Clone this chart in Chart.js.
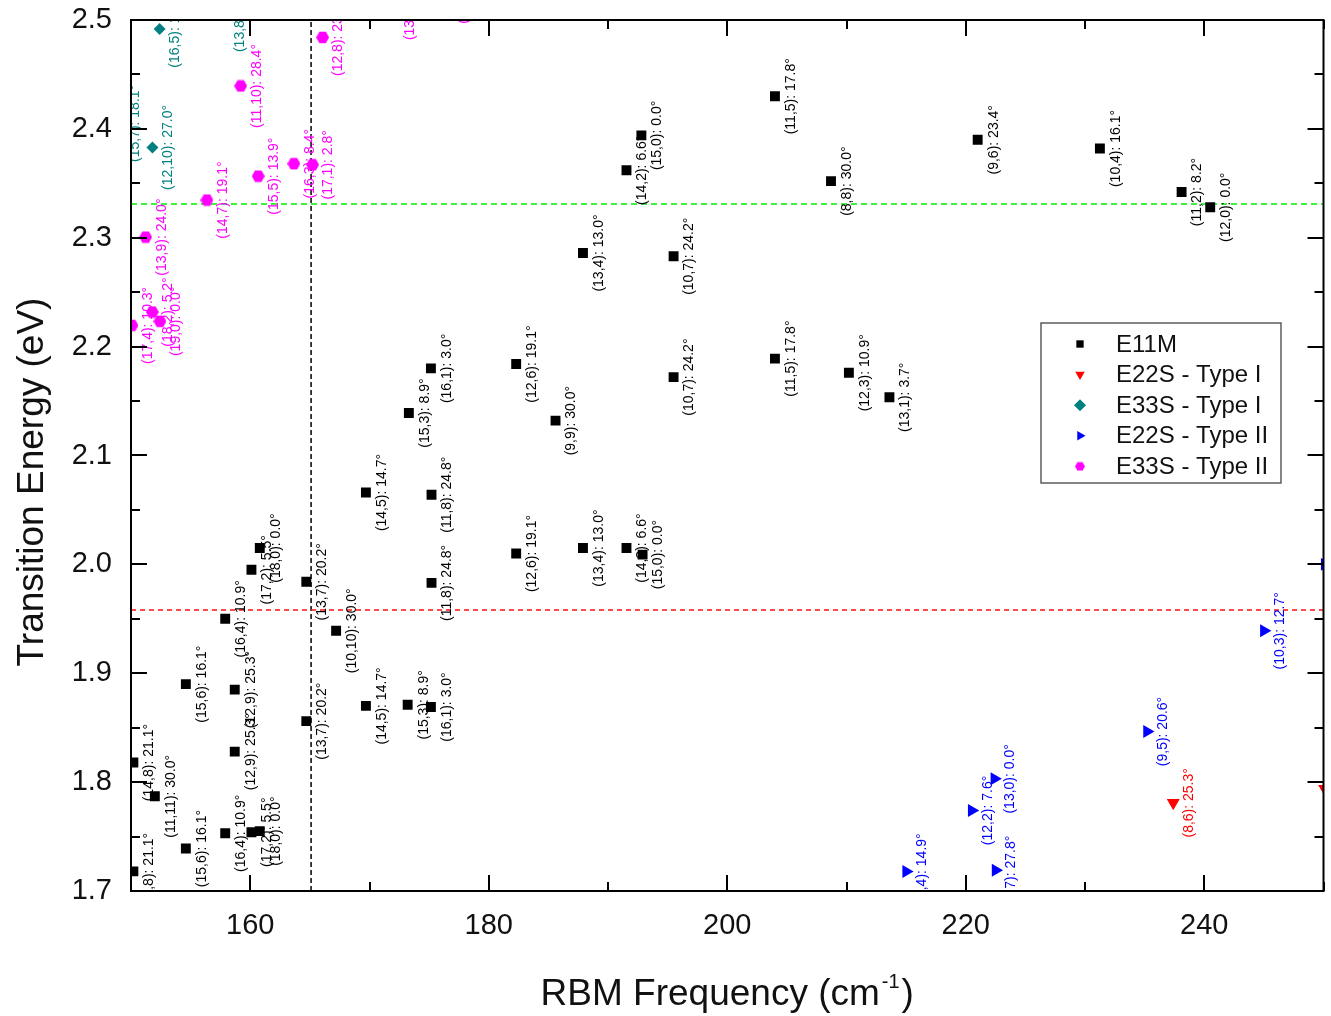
<!DOCTYPE html>
<html>
<head>
<meta charset="utf-8">
<title>Transition Energy vs RBM Frequency</title>
<script src="https://cdn.jsdelivr.net/npm/chart.js@4.4.1/dist/chart.umd.min.js"></script>
<style>
  html, body { margin: 0; padding: 0; background: #fff; }
  #wrap { width: 1331px; height: 1016px; position: relative; }
</style>
</head>
<body>
<div id="wrap"><canvas id="myChart"></canvas></div>
<script>
// Kataura-style plot: transition energies vs RBM frequency

const FONT = '"Liberation Sans", Arial, sans-serif';

// E11M - metallic tubes
const e11mFreq = [150.2, 150.2, 152.0, 154.6, 154.6, 157.9, 157.9, 158.7, 158.7, 160.1, 160.8,
  160.1, 160.8, 164.7, 164.7, 167.2, 169.7, 169.7, 173.3, 175.15, 175.2, 175.2, 173.2, 175.15,
  182.3, 182.3, 185.6, 187.9, 187.9, 191.55, 192.8, 191.55, 192.9, 195.5, 195.5, 204.0, 204.0,
  208.7, 210.2, 213.6, 221.0, 231.25, 238.1, 240.5];
const e11mEnergy = [1.818, 1.718, 1.787, 1.890, 1.739, 1.950, 1.753, 1.885, 1.828, 1.995, 2.015,
  1.754, 1.755, 1.984, 1.856, 1.939, 1.870, 2.066, 2.139, 2.180, 2.064, 1.983, 1.871, 1.869,
  2.184, 2.010, 2.132, 2.286, 2.015, 2.362, 2.394, 2.015, 2.009, 2.283, 2.172, 2.430, 2.189,
  2.352, 2.176, 2.1535, 2.390, 2.382, 2.342, 2.328];
const e11mTags = ["(14,8): 21.1°", "(14,8): 21.1°", "(11,11): 30.0°", "(15,6): 16.1°", "(15,6): 16.1°",
  "(16,4): 10.9°", "(16,4): 10.9°", "(12,9): 25.3°", "(12,9): 25.3°", "(17,2): 5.5°", "(18,0): 0.0°",
  "(17,2): 5.5°", "(18,0): 0.0°", "(13,7): 20.2°", "(13,7): 20.2°", "(10,10): 30.0°", "(14,5): 14.7°",
  "(14,5): 14.7°", "(15,3): 8.9°", "(16,1): 3.0°", "(11,8): 24.8°", "(11,8): 24.8°", "(15,3): 8.9°",
  "(16,1): 3.0°", "(12,6): 19.1°", "(12,6): 19.1°", "(9,9): 30.0°", "(13,4): 13.0°", "(13,4): 13.0°",
  "(14,2): 6.6°", "(15,0): 0.0°", "(14,2): 6.6°", "(15,0): 0.0°", "(10,7): 24.2°", "(10,7): 24.2°",
  "(11,5): 17.8°", "(11,5): 17.8°", "(8,8): 30.0°", "(12,3): 10.9°", "(13,1): 3.7°", "(9,6): 23.4°",
  "(10,4): 16.1°", "(11,2): 8.2°", "(12,0): 0.0°"];

// E22S - semiconducting, type I
const e22sIFreq = [237.4, 250.1];
const e22sIEnergy = [1.781, 1.794];
const e22sITags = ["(8,6): 25.3°", "(9,4): 17.5°"];

// E33S - semiconducting, type I
const e33sIFreq = [152.4, 151.8, 149.0, 157.8];
const e33sIEnergy = [2.4917, 2.383, 2.405, 2.506];
const e33sITags = ["(16,5): 13.2°", "(12,10): 27.0°", "(15,7): 18.1°", "(13,8): 22.2°"];

// E22S - semiconducting, type II
const e22sIIFreq = [245.0, 235.2, 222.4, 220.5, 222.5, 215.0, 250.1];
const e22sIIEnergy = [1.939, 1.8465, 1.803, 1.774, 1.719, 1.718, 2.000];
const e22sIITags = ["(10,3): 12.7°", "(9,5): 20.6°", "(13,0): 0.0°", "(12,2): 7.6°",
  "(8,7): 27.8°", "(11,4): 14.9°", "(11,1): 4.3°"];

// E33S - semiconducting, type II
const e33sIIFreq = [166.07, 159.2, 156.37, 160.67, 163.66, 165.23, 151.23, 150.08, 151.79, 152.43,
  172.1, 176.6, 182.0];
const e33sIIEnergy = [2.484, 2.4394, 2.3346, 2.3566, 2.368, 2.367, 2.3006, 2.2195, 2.2318, 2.2232,
  2.517, 2.532, 2.533];
const e33sIITags = ["(12,8): 23.4°", "(11,10): 28.4°", "(14,7): 19.1°", "(15,5): 13.9°", "(16,3): 8.4°",
  "(17,1): 2.8°", "(13,9): 24.0°", "(17,4): 10.3°", "(18,2): 5.2°", "(19,0): 0.0°",
  "(13,6): 18.0°", "(14,4): 12.2°", "(15,2): 6.2°"];

// laser lines (eV) and the frequency divider (cm-1)
const laserGreen = 2.331;
const laserRed = 1.958;
const splitFreq = 165.1;

const xRange = [150, 250];
const yRange = [1.7, 2.5];

function toPoints(xs, ys) {
  return xs.map((x, i) => ({ x: x, y: ys[i] }));
}

// hexagon marker (Chart.js has none built in)
function makeHexagon(size, color) {
  const c = document.createElement("canvas");
  c.width = size;
  c.height = size;
  const g = c.getContext("2d");
  const r = size / 2;
  g.fillStyle = color;
  g.beginPath();
  for (let k = 0; k < 6; k++) {
    const a = Math.PI / 3 * k;
    const px = r + Math.cos(a) * r;
    const py = r + Math.sin(a) * r;
    if (k === 0) g.moveTo(px, py); else g.lineTo(px, py);
  }
  g.closePath();
  g.fill();
  return c;
}

const hexBig = makeHexagon(13, "#ff00ff");
const hexSmall = makeHexagon(10, "#ff00ff");

function series(label, xs, ys, tags, color, style, radius, rotation, legendStyle, legendRadius) {
  return {
    label: label,
    data: toPoints(xs, ys),
    tags: tags,
    tagColor: color,
    legendStyle: legendStyle || style,
    legendRadius: legendRadius,
    pointStyle: style,
    pointRadius: radius,
    pointRotation: rotation,
    pointBackgroundColor: color,
    pointBorderWidth: 0,
    showLine: false,
    clip: 0,
    order: 1,
  };
}

function refLine(points, color, dash) {
  return {
    label: "",
    data: points,
    showLine: true,
    borderColor: color,
    borderWidth: 1.5,
    borderDash: dash,
    pointRadius: 0,
    clip: 0,
    order: 5,
  };
}

const datasets = [
  series("E11M", e11mFreq, e11mEnergy, e11mTags, "#000000", "rect", 7, 0, "rect", 5.2),
  series("E22S - Type I", e22sIFreq, e22sIEnergy, e22sITags, "#ff0000", "triangle", 7.5, 180, "triangle", 5.5),
  series("E33S - Type I", e33sIFreq, e33sIEnergy, e33sITags, "#008080", "rectRot", 6, 0, "rectRot", 6),
  series("E22S - Type II", e22sIIFreq, e22sIIEnergy, e22sIITags, "#0000ff", "triangle", 7.5, 90, "triangle", 5.5),
  series("E33S - Type II", e33sIIFreq, e33sIIEnergy, e33sIITags, "#ff00ff", hexBig, 6.5, 0, hexSmall, 5),
  refLine([{ x: xRange[0], y: laserGreen }, { x: xRange[1], y: laserGreen }], "#00ee00", [6, 4]),
  refLine([{ x: xRange[0], y: laserRed }, { x: xRange[1], y: laserRed }], "#ff1010", [5, 4]),
  refLine([{ x: splitFreq, y: yRange[0] }, { x: splitFreq, y: yRange[1] }], "#000000", [5, 3]),
];

// rotated (n,m) tags next to each marker, clipped to the plot frame
const tagPlugin = {
  id: "pointTags",
  afterDatasetsDraw(chart) {
    const { ctx, chartArea: a } = chart;
    ctx.save();
    ctx.beginPath();
    ctx.rect(a.left, a.top, a.right - a.left, a.bottom - a.top);
    ctx.clip();
    ctx.font = "14px " + FONT;
    ctx.textAlign = "center";
    ctx.textBaseline = "middle";
    chart.data.datasets.forEach((ds, i) => {
      if (!ds.tags) return;
      ctx.fillStyle = ds.tagColor;
      chart.getDatasetMeta(i).data.forEach((pt, j) => {
        ctx.save();
        ctx.translate(pt.x + 16, pt.y);
        ctx.rotate(-Math.PI / 2);
        ctx.fillText(ds.tags[j], 0, 0);
        ctx.restore();
      });
    });
    ctx.restore();
  },
};

// frame, inward ticks on all four sides, legend box and axis titles
const framePlugin = {
  id: "frame",
  afterDraw(chart) {
    const { ctx, chartArea: a, scales } = chart;
    ctx.save();
    ctx.strokeStyle = "#000";
    ctx.lineWidth = 2;

    scales.x.ticks.forEach((t) => {
      const px = Math.round(scales.x.getPixelForValue(t.value));
      const len = t.label ? 16 : 9;
      ctx.beginPath();
      ctx.moveTo(px, a.bottom);
      ctx.lineTo(px, a.bottom - len);
      ctx.moveTo(px, a.top);
      ctx.lineTo(px, a.top + len);
      ctx.stroke();
    });
    scales.y.ticks.forEach((t) => {
      const py = Math.round(scales.y.getPixelForValue(t.value));
      const len = t.label ? 16 : 9;
      ctx.beginPath();
      ctx.moveTo(a.left, py);
      ctx.lineTo(a.left + len, py);
      ctx.moveTo(a.right, py);
      ctx.lineTo(a.right - len, py);
      ctx.stroke();
    });
    ctx.strokeRect(a.left, a.top, a.right - a.left, a.bottom - a.top);

    // legend
    const box = { x: 1041, y: 323, w: 240, h: 160 };
    ctx.fillStyle = "#fff";
    ctx.fillRect(box.x, box.y, box.w, box.h);
    ctx.strokeStyle = "#444";
    ctx.lineWidth = 1.3;
    ctx.strokeRect(box.x, box.y, box.w, box.h);
    ctx.font = "24px " + FONT;
    ctx.textBaseline = "middle";
    ctx.textAlign = "left";
    let row = 0;
    chart.data.datasets.forEach((ds) => {
      if (!ds.tags) return;
      const cy = box.y + 21 + row * 30.6;
      ctx.fillStyle = ds.tagColor;
      Chart.helpers.drawPoint(ctx, {
        pointStyle: ds.legendStyle,
        radius: ds.legendRadius,
        rotation: ds.pointRotation,
        borderWidth: 0,
      }, 1080, cy);
      ctx.fillStyle = "#111";
      ctx.fillText(ds.label, 1116, cy + 1);
      row++;
    });

    // axis titles
    ctx.fillStyle = "#111";
    ctx.save();
    ctx.translate(33, 482);
    ctx.rotate(-Math.PI / 2);
    ctx.font = "37px " + FONT;
    ctx.textAlign = "center";
    ctx.textBaseline = "middle";
    ctx.fillText("Transition Energy (eV)", 0, 0);
    ctx.restore();

    const base = 1005;
    const mainFont = "37px " + FONT;
    const supFont = "20px " + FONT;
    ctx.textBaseline = "alphabetic";
    ctx.textAlign = "left";
    ctx.font = mainFont;
    const w1 = ctx.measureText("RBM Frequency (cm").width;
    const w3 = ctx.measureText(")").width;
    ctx.font = supFont;
    const w2 = ctx.measureText("-1").width + 4;
    let x0 = (a.left + a.right) / 2 - (w1 + w2 + w3) / 2;
    ctx.font = mainFont;
    ctx.fillText("RBM Frequency (cm", x0, base);
    ctx.font = supFont;
    ctx.fillText("-1", x0 + w1 + 2, base - 17);
    ctx.font = mainFont;
    ctx.fillText(")", x0 + w1 + w2, base);
    ctx.restore();
  },
};

const config = {
  type: "scatter",
  data: { datasets: datasets },
  options: {
    responsive: true,
    maintainAspectRatio: false,
    animation: false,
    events: [],
    layout: { padding: { top: 20, right: 7, left: 0, bottom: 0 } },
    plugins: {
      legend: { display: false },
      tooltip: { enabled: false },
    },
    scales: {
      x: {
        type: "linear",
        min: xRange[0],
        max: xRange[1],
        grid: { display: false, drawTicks: false },
        border: { display: false },
        ticks: {
          stepSize: 10,
          autoSkip: false,
          maxRotation: 0,
          padding: 18,
          color: "#111",
          font: { family: FONT, size: 29 },
          callback: (v) => (v % 20 === 0 ? String(v) : ""),
        },
        afterFit: (scale) => {
          scale.height = 125;
          scale.paddingLeft = 0;
          scale.paddingRight = 0;
        },
      },
      y: {
        type: "linear",
        min: yRange[0],
        max: yRange[1],
        grid: { display: false, drawTicks: false },
        border: { display: false },
        ticks: {
          stepSize: 0.05,
          autoSkip: false,
          padding: 19,
          color: "#111",
          font: { family: FONT, size: 29 },
          callback: (v) => (Math.round(v * 100) % 10 === 0 ? v.toFixed(1) : ""),
        },
        afterFit: (scale) => {
          scale.width = 131;
          scale.paddingTop = 0;
          scale.paddingBottom = 0;
        },
      },
    },
  },
  plugins: [tagPlugin, framePlugin],
};

new Chart(document.getElementById("myChart"), config);
</script>
</body>
</html>
